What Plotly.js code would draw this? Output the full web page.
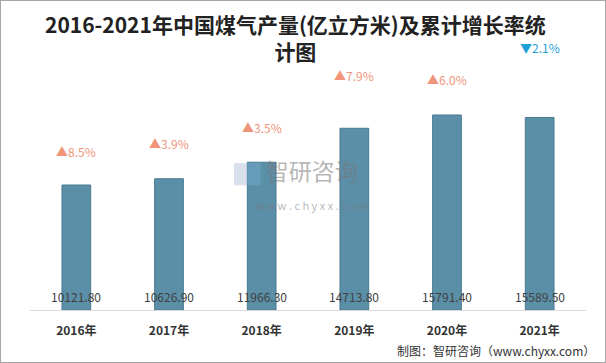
<!DOCTYPE html>
<html><head><meta charset="utf-8">
<script src="https://cdn.plot.ly/plotly-3.0.1.min.js"></script>
<style>html,body{margin:0;padding:0;background:#fff}#frame{width:604px;height:361px;border:1px solid #a6a6a6;position:relative;overflow:hidden}#chart{width:604px;height:361px}</style>
</head><body><div id="frame"><div id="chart"></div></div>
<script>
const categories = ["2016年","2017年","2018年","2019年","2020年","2021年"];
const output = [10121.80, 10626.90, 11966.30, 14713.80, 15791.40, 15589.50];
const growth = [8.5, 3.9, 3.5, 7.9, 6.0, -2.1];
const titleText = '2016-2021年中国煤气产量(亿立方米)及累计增长率统<br>计图';

const labelShift = [34, 35, 35, 53, 35, 70];
const annotations = [];
categories.forEach((c, i) => {
  const up = growth[i] >= 0;
  annotations.push({
    x: c, y: output[i], xref: 'x', yref: 'y', yanchor: 'middle', yshift: labelShift[i],
    text: (up ? '▲' : '▼') + Math.abs(growth[i]).toFixed(1) + '%', showarrow: false,
    font: {family: 'Noto Sans CJK SC, sans-serif', size: 12, color: up ? '#F0957A' : '#1E9FD8'}
  });
  annotations.push({
    x: c, y: 0, xref: 'x', yref: 'y', yanchor: 'middle', yshift: 14,
    text: output[i].toFixed(2), showarrow: false,
    font: {family: 'Noto Sans CJK SC, sans-serif', size: 12, color: '#404040'}
  });
});
annotations.push({xref: 'paper', yref: 'paper', x: 0.478, y: 1.104, yanchor: 'middle', text: titleText, showarrow: false,
  font: {family: 'Noto Sans CJK SC, serif', size: 21, color: '#222', weight: 'bold'}});
annotations.push({xref: 'paper', yref: 'paper', x: 0.508, y: 0.515, yanchor: 'middle',
  text: '智研咨询<br><span style="font-size:11px">w w w . c h y x x . c o m</span>', showarrow: false,
  font: {family: 'Noto Sans CJK SC, sans-serif', size: 23, color: 'rgba(120,120,120,0.55)'}});
annotations.push({xref: 'paper', yref: 'paper', x: 1.02, xanchor: 'right', y: -0.165, yanchor: 'middle', text: '制图：智研咨询（www.chyxx.com）', showarrow: false,
  font: {family: 'Noto Sans CJK SC, sans-serif', size: 12, color: '#333'}});

const data = [{
  type: 'bar', x: categories, y: output,
  marker: {color: '#5B8FA7', line: {color: '#4A7B93', width: 1}},
  hoverinfo: 'x+y'
}];

const layout = {
  width: 604, height: 361,
  margin: {l: 29, r: 19, t: 62, b: 52},
  paper_bgcolor: '#fff', plot_bgcolor: '#fff',
  bargap: 0.69,
  showlegend: false,
  xaxis: {showline: true, linecolor: '#d9d9d9', linewidth: 1, ticks: '', ticklabelstandoff: 10,
    tickfont: {family: 'Noto Sans CJK SC, sans-serif', size: 12, color: '#333', weight: 'bold'}},
  yaxis: {range: [0, 20000], visible: false, showgrid: false, zeroline: false},
  annotations: annotations,
  shapes: [
    {type: 'rect', xref: 'paper', yref: 'paper', x0: 0.367, x1: 0.39, y0: 0.505, y1: 0.595, fillcolor: 'rgba(150,170,200,0.35)', line: {width: 0}},
    {type: 'rect', xref: 'paper', yref: 'paper', x0: 0.39, x1: 0.415, y0: 0.505, y1: 0.595, fillcolor: 'rgba(120,180,220,0.35)', line: {width: 0}}
  ]
};
Plotly.newPlot('chart', data, layout, {displayModeBar: false, staticPlot: true});
</script></body></html>
